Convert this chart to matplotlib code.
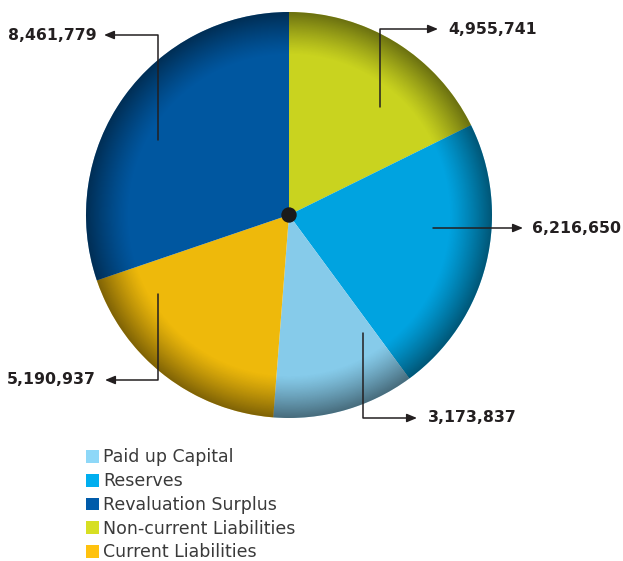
import numpy as np
import matplotlib
matplotlib.use("Agg")
import matplotlib.pyplot as plt
from matplotlib.patches import Circle, Patch

# ---- data ----
categories = ["Non-current Liabilities", "Reserves", "Paid up Capital",
              "Current Liabilities", "Revaluation Surplus"]
values = [4955741, 6216650, 3173837, 5190937, 8461779]
pie_colors = ["#C9D31F", "#00A3E0", "#86CBEA", "#EEB90B", "#0057A0"]

legend_labels = ["Paid up Capital", "Reserves", "Revaluation Surplus",
                 "Non-current Liabilities", "Current Liabilities"]
legend_colors = ["#8ED8F8", "#00AEEF", "#005BAA", "#D7DF23", "#FFC20E"]

W, H = 623, 561
fig = plt.figure(figsize=(W / 100, H / 100), dpi=100)
ax = fig.add_axes([0, 0, 1, 1])

cx, cy, R = 289, H - 215, 203

wedges, _ = ax.pie(values, colors=pie_colors, startangle=90, counterclock=False,
                   center=(cx, cy), radius=R, frame=True,
                   wedgeprops=dict(linewidth=0))
ax.set_xlim(0, W)
ax.set_ylim(0, H)
ax.set_aspect("equal")
ax.axis("off")

# radial rim shading
n = 600
xs = np.linspace(-1, 1, n)
X, Y = np.meshgrid(xs, xs)
r = np.sqrt(X**2 + Y**2)
t = np.clip((r - 0.79) / 0.21, 0, 1)
alpha = 0.47 * t**1.2
img = np.zeros((n, n, 4))
img[..., 3] = alpha
im = ax.imshow(img, extent=(cx - R, cx + R, cy - R, cy + R), origin="lower",
               zorder=3, interpolation="bilinear")
im.set_clip_path(Circle((cx, cy), R, transform=ax.transData))
ax.set_xlim(0, W)
ax.set_ylim(0, H)

# centre dot
ax.add_patch(Circle((cx, cy), 7, color="#1A1A1A", zorder=5))

# ---- annotations ----
txt_col = "#231F20"
ann = [
    ((158, H - 140), (104, H - 35), (97, H - 35), "right", "8,461,779", 90),
    ((380, H - 107), (438, H - 29), (448, H - 29), "left", "4,955,741", 90),
    ((433, H - 228), (523, H - 228), (532, H - 228), "left", "6,216,650", None),
    ((363, H - 333), (417, H - 418), (428, H - 418), "left", "3,173,837", 90),
    ((158, H - 294), (105, H - 380), (96, H - 380), "right", "5,190,937", 90),
]
for start, tip, tpos, ha, lab, angA in ann:
    if angA is None:
        cs = "arc3,rad=0"
    else:
        cs = "angle,angleA=90,angleB=0,rad=0"
    ax.annotate("", xy=tip, xytext=start, zorder=6,
                arrowprops=dict(arrowstyle="-|>,head_length=0.6,head_width=0.25",
                                connectionstyle=cs, color=txt_col, lw=1.1,
                                shrinkA=0, shrinkB=0))
    ax.text(tpos[0], tpos[1], lab, ha=ha, va="center", fontsize=11.3,
            fontweight="bold", color=txt_col, family="DejaVu Sans", zorder=6)

# ---- legend ----
handles = [Patch(facecolor=c, edgecolor="none") for c in legend_colors]
fig.legend(handles, legend_labels, loc="upper left",
           bbox_to_anchor=(86 / W, (H - 448.5) / H), frameon=False,
           handlelength=0.75, handleheight=0.75,
           handletextpad=0.24, labelspacing=0.33, borderpad=0,
           borderaxespad=0, labelcolor="#3A3A3A",
           prop={"family": "DejaVu Sans", "size": 12.5})

fig.savefig("out.png", dpi=100)
